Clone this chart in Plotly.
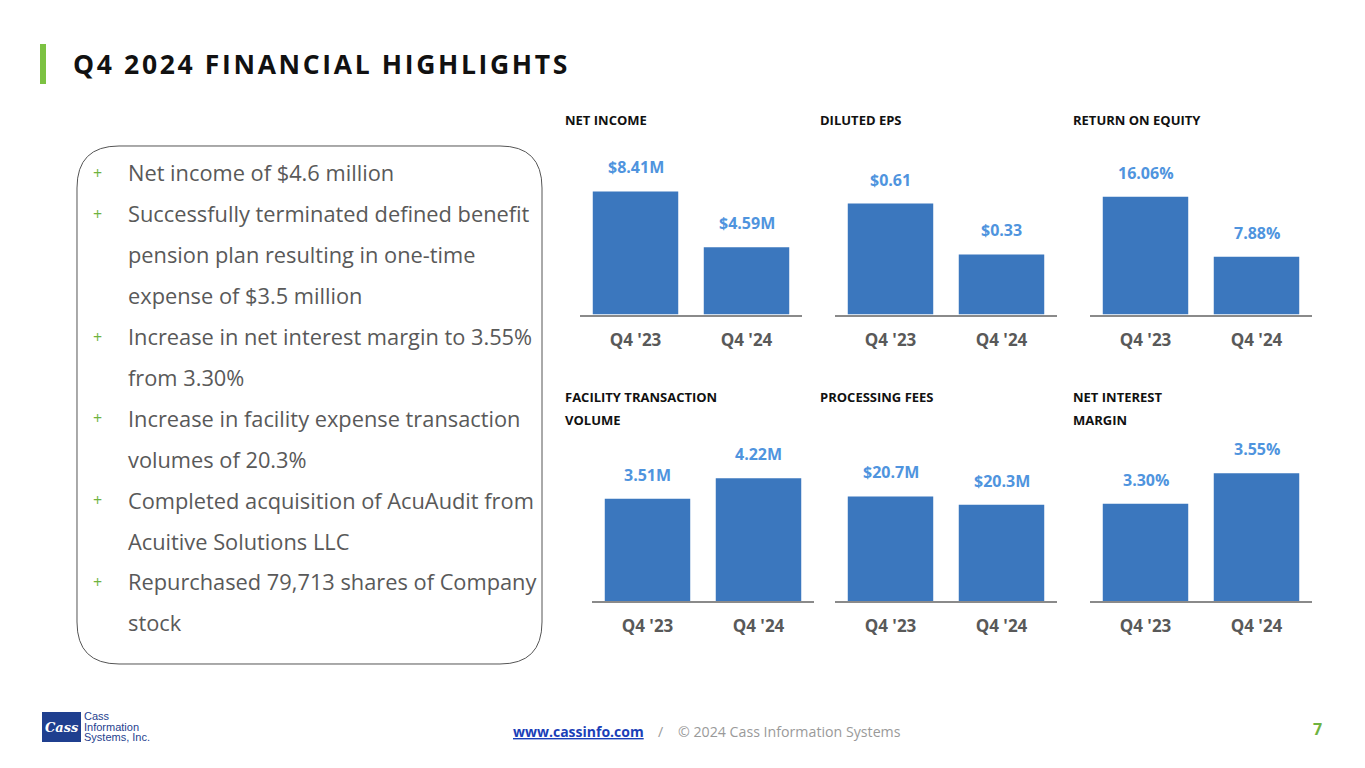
import plotly.graph_objects as go

W, H = 1365, 768

# ---- data ----
categories = ["Q4 '23", "Q4 '24"]
net_income = [8.41, 4.59]
net_income_labels = ["$8.41M", "$4.59M"]
diluted_eps = [0.61, 0.33]
diluted_eps_labels = ["$0.61", "$0.33"]
roe = [16.06, 7.88]
roe_labels = ["16.06%", "7.88%"]
facility_volume = [3.51, 4.22]
facility_volume_labels = ["3.51M", "4.22M"]
processing_fees = [20.7, 20.3]
processing_fees_labels = ["$20.7M", "$20.3M"]
nim = [3.30, 3.55]
nim_labels = ["3.30%", "3.55%"]

bullets = [
    ["Net income of $4.6 million"],
    ["Successfully terminated defined benefit", "pension plan resulting in one-time", "expense of $3.5 million"],
    ["Increase in net interest margin to 3.55%", "from 3.30%"],
    ["Increase in facility expense transaction", "volumes of 20.3%"],
    ["Completed acquisition of AcuAudit from", "Acuitive Solutions LLC"],
    ["Repurchased 79,713 shares of Company", "stock"],
]

# ---- styling ----
BAR = "#3b77be"
LBL = "#4f94de"
FONT = "Open Sans"
GRAY = "#595959"


def px_x(p):
    return p / W


def px_y(p):
    return 1 - p / H


charts = [
    dict(title=["NET INCOME"], vals=net_income, labels=net_income_labels,
         x0=580, row=0, rng=[0, 11.24], tx=563),
    dict(title=["DILUTED EPS"], vals=diluted_eps, labels=diluted_eps_labels,
         x0=835, row=0, rng=[0, 0.904], tx=818),
    dict(title=["RETURN ON EQUITY"], vals=roe, labels=roe_labels,
         x0=1090, row=0, rng=[0, 22.44], tx=1071),
    dict(title=["FACILITY TRANSACTION", "VOLUME"], vals=facility_volume, labels=facility_volume_labels,
         x0=592, row=1, rng=[0, 5.53], tx=563),
    dict(title=["PROCESSING FEES"], vals=processing_fees, labels=processing_fees_labels,
         x0=835, row=1, rng=[15.7, 23.4], tx=818),
    dict(title=["NET INTEREST", "MARGIN"], vals=nim, labels=nim_labels,
         x0=1090, row=1, rng=[2.5, 3.824], tx=1071),
]

rows = [dict(top=150, bottom=314.5, title_y=120), dict(top=440, bottom=601, title_y=397)]

fig = go.Figure()
annotations = []
shapes = []
layout_axes = {}

for i, c in enumerate(charts):
    n = i + 1
    xa = "x" if n == 1 else f"x{n}"
    ya = "y" if n == 1 else f"y{n}"
    xkey = "xaxis" if n == 1 else f"xaxis{n}"
    ykey = "yaxis" if n == 1 else f"yaxis{n}"
    r = rows[c["row"]]
    fig.add_trace(go.Bar(x=categories, y=c["vals"], marker=dict(color=BAR, line=dict(width=0)),
                         xaxis=xa, yaxis=ya, hoverinfo="skip", showlegend=False))
    layout_axes[xkey] = dict(domain=[px_x(c["x0"]), px_x(c["x0"] + 222)], anchor=ya,
                             showline=True, linecolor="#8a8a8a", linewidth=1.5,
                             showgrid=False, zeroline=False, ticks="",
                             ticklabelstandoff=9,
                             tickfont=dict(family=FONT, size=17, color=GRAY, weight="bold"),
                             fixedrange=True)
    layout_axes[ykey] = dict(domain=[px_y(r["bottom"]), px_y(r["top"])], anchor=xa,
                             range=c["rng"], visible=False, showgrid=False, zeroline=False,
                             fixedrange=True)
    for cat, v, lab in zip(categories, c["vals"], c["labels"]):
        annotations.append(dict(x=cat, y=v, xref=xa, yref=ya, text=lab, showarrow=False,
                                yanchor="bottom", yshift=11,
                                font=dict(family=FONT, size=16, color=LBL, weight="bold")))
    for j, t in enumerate(c["title"]):
        annotations.append(dict(x=px_x(c["tx"]), y=px_y(r["title_y"] + 23 * j), xref="paper", yref="paper",
                                text=t, showarrow=False, xanchor="left", yanchor="middle",
                                font=dict(family=FONT, size=13, color="#111111", weight="bold")))

# ---- title ----
title_text = "\u200a".join("Q4 2024 FINANCIAL HIGHLIGHTS")
annotations.append(dict(x=px_x(71), y=px_y(64), xref="paper", yref="paper", text=title_text,
                        showarrow=False, xanchor="left", yanchor="middle",
                        font=dict(family=FONT, size=26.5, color="#111111", weight="bold")))
shapes.append(dict(type="rect", xref="paper", yref="paper", x0=px_x(40), x1=px_x(46),
                   y0=px_y(84), y1=px_y(44), fillcolor="#7cc242", line=dict(width=0)))

# ---- bullet box ----
bx0, bx1, by0, by1, rr = 77, 542, 146, 664, 42
path = (f"M {bx0 + rr},{by0} L {bx1 - rr},{by0} Q {bx1},{by0} {bx1},{by0 + rr} "
        f"L {bx1},{by1 - rr} Q {bx1},{by1} {bx1 - rr},{by1} L {bx0 + rr},{by1} "
        f"Q {bx0},{by1} {bx0},{by1 - rr} L {bx0},{by0 + rr} Q {bx0},{by0} {bx0 + rr},{by0} Z")


def conv_path(p):
    out = []
    for tok in p.split():
        if "," in tok:
            a, b = tok.split(",")
            out.append(f"{px_x(float(a)):.5f},{px_y(float(b)):.5f}")
        else:
            out.append(tok)
    return " ".join(out)


shapes.append(dict(type="path", xref="paper", yref="paper", path=conv_path(path),
                   line=dict(color="#555555", width=1), fillcolor="rgba(0,0,0,0)"))

line_y = 173
step = 40.9
for b in bullets:
    annotations.append(dict(x=px_x(98), y=px_y(line_y), xref="paper", yref="paper", text="+",
                            showarrow=False, xanchor="center", yanchor="middle",
                            font=dict(family=FONT, size=16, color="#6fb33f")))
    for t in b:
        annotations.append(dict(x=px_x(126), y=px_y(line_y), xref="paper", yref="paper", text=t,
                                showarrow=False, xanchor="left", yanchor="middle",
                                font=dict(family=FONT, size=21.8, color=GRAY)))
        line_y += step

# ---- footer ----
annotations.append(dict(x=px_x(646), y=px_y(731), xref="paper", yref="paper",
                        text="<u>www.cassinfo.com</u>", showarrow=False, xanchor="right", yanchor="middle",
                        font=dict(family=FONT, size=14, color="#1a3fb8", weight="bold")))
annotations.append(dict(x=px_x(656), y=px_y(731), xref="paper", yref="paper",
                        text="/    \u00a9 2024 Cass Information Systems", showarrow=False,
                        xanchor="left", yanchor="middle",
                        font=dict(family=FONT, size=14.2, color="#9a9a9a")))
annotations.append(dict(x=px_x(1317), y=px_y(729), xref="paper", yref="paper", text="7",
                        showarrow=False, xanchor="center", yanchor="middle",
                        font=dict(family=FONT, size=16, color="#6fb33f", weight="bold")))

# ---- logo approximation ----
shapes.append(dict(type="rect", xref="paper", yref="paper", x0=px_x(42), x1=px_x(81),
                   y0=px_y(742), y1=px_y(712), fillcolor="#1f3f8f", line=dict(width=0),
                   layer="above"))
annotations.append(dict(x=px_x(61.5), y=px_y(727), xref="paper", yref="paper", text="<i>Cass</i>",
                        showarrow=False, xanchor="center", yanchor="middle",
                        font=dict(family="DejaVu Serif", size=13, color="white", weight="bold")))
for k, t in enumerate(["Cass", "Information", "Systems, Inc."]):
    annotations.append(dict(x=px_x(82), y=px_y(716 + 10.5 * k), xref="paper", yref="paper", text=t,
                            showarrow=False, xanchor="left", yanchor="middle",
                            font=dict(family="Liberation Sans", size=11, color="#1f3f8f")))

fig.update_layout(
    width=W, height=H, margin=dict(l=0, r=0, t=0, b=0),
    paper_bgcolor="white", plot_bgcolor="white",
    bargap=0.23, showlegend=False,
    annotations=annotations, shapes=shapes,
    **layout_axes,
)

fig.write_html("out.html")
